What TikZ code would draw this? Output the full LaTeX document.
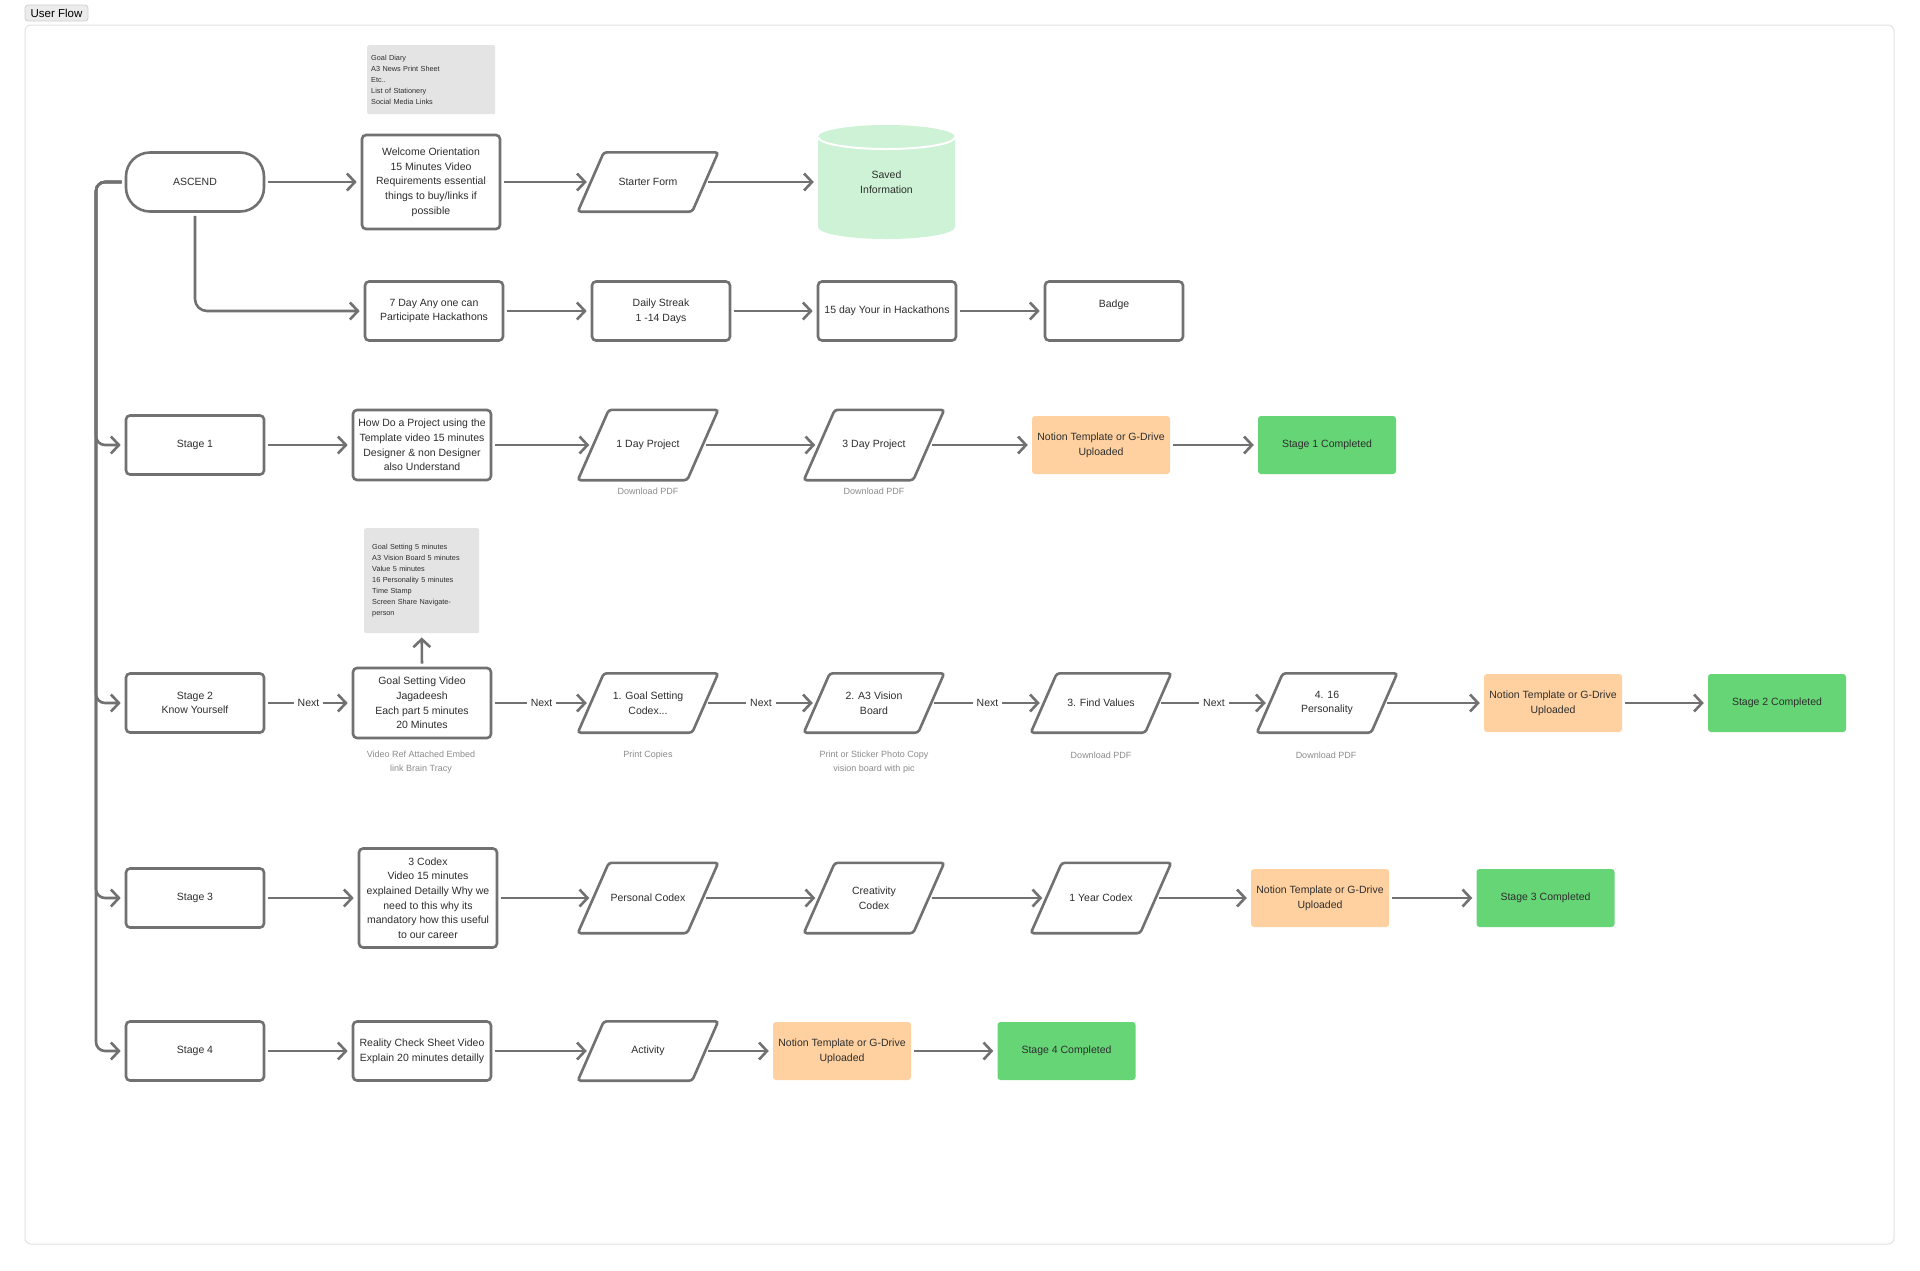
\documentclass[tikz,border=0pt]{standalone}
\usepackage{fontspec}
\setmainfont{Liberation Sans}
\usetikzlibrary{arrows.meta,calc}
\definecolor{bordc}{HTML}{717171}
\definecolor{txtc}{HTML}{2E2E2E}
\definecolor{capc}{HTML}{8C8C8C}
\definecolor{orng}{HTML}{FFD1A0}
\definecolor{grn}{HTML}{66D576}
\definecolor{lgrn}{HTML}{CDF2D5}
\definecolor{noteg}{HTML}{E4E4E4}
\definecolor{framec}{HTML}{E3E3E3}
\definecolor{tabfill}{HTML}{ECECEC}
\definecolor{tabdraw}{HTML}{CFCFCF}
\newcommand\fsmain{\fontsize{10.5}{14.7}\selectfont}
\newcommand\fsnote{\fontsize{7.3}{11.1}\selectfont}
\newcommand\fscap{\fontsize{9}{13.5}\selectfont}
\newcommand\parashape[2]{\draw[pbord] ([xshift=-#2pt]#1.south west) -- ([xshift=#2pt]#1.north west) -- ([xshift=#2pt]#1.north east) -- ([xshift=-#2pt]#1.south east) -- cycle;}
\begin{document}
\begin{tikzpicture}[x=1pt,y=-1pt,
 box/.style={draw=bordc, line width=2.6pt, rounded corners=4pt, minimum width=138pt, minimum height=59pt, align=center, font=\fsmain, text=txtc, inner sep=2pt},
 pnode/.style={minimum width=114pt, minimum height=59pt, align=center, font=\fsmain, text=txtc, inner sep=0pt},
 pnodeT/.style={pnode, minimum width=109pt, minimum height=70pt},
 pbord/.style={draw=bordc, line width=2.6pt, rounded corners=3pt},
 obox/.style={fill=orng, rounded corners=3pt, minimum width=138pt, minimum height=58pt, align=center, font=\fsmain, text=txtc, inner sep=2pt},
 gbox/.style={fill=grn, rounded corners=3pt, minimum width=138pt, minimum height=58pt, align=center, font=\fsmain, text=txtc, inner sep=2pt},
 notebox/.style={fill=noteg, rounded corners=2pt, align=left, font=\fsnote, text=txtc, anchor=north west},
 captxt/.style={font=\fscap, text=capc, align=center},
 arr/.style={draw=bordc, line width=2.6pt, -{Straight Barb[length=8pt,width=17pt]}, shorten <=3pt, shorten >=4pt},
 nxt/.style={fill=white, font=\fsmain, text=txtc, inner sep=4pt}
]
\useasboundingbox (0,0) rectangle (1920,1270);
\fill[white] (0,0) rectangle (1920,1270);
% frame and tab
\draw[framec, line width=1pt, rounded corners=6pt] (25,25) rectangle (1894,1244);
\node[fill=tabfill, draw=tabdraw, line width=0.8pt, rounded corners=3pt, minimum width=63pt, minimum height=16pt, inner sep=0pt, font=\fontsize{11.5}{13}\selectfont, text=black] (tab) at (56.5,13) {User Flow};

% cylinder
\fill[lgrn] (818,137) -- (818,227) arc[start angle=180, end angle=360, x radius=68.5pt, y radius=12pt] -- (955,137) arc[start angle=0, end angle=180, x radius=68.5pt, y radius=12pt] -- cycle;
\draw[white, line width=2pt] (818,137) arc[start angle=180, end angle=360, x radius=68.5pt, y radius=12pt];

% row A
\node[box, rounded corners=24pt] (ascend) at (195,182) {ASCEND};
\node[box, minimum height=94pt] (welcome) at (431,182) {Welcome Orientation\\15 Minutes Video\\Requirements essential\\things to buy/links if\\possible};
\node[pnode] (sf) at (648,182) {Starter Form}; \parashape{sf}{13}
\node[minimum width=137pt, minimum height=114pt, inner sep=0pt, align=center, font=\fsmain, text=txtc] (saved) at (886.5,182) {Saved\\Information};
\node[notebox, text width=120pt, inner xsep=4pt, minimum height=69pt] (note1) at (367,45) {Goal Diary\\A3 News Print Sheet\\Etc..\\List of Stationery\\Social Media Links};

% row B
\node[box] (day7) at (434,311) {7 Day Any one can\\Participate Hackathons};
\node[box] (streak) at (661,311) {Daily Streak\\1 -14 Days};
\node[box] (day15) at (887,311) {15 day Your in Hackathons};
\node[box] (badge) at (1114,311) {Badge\\\mbox{}};

% row 1
\node[box] (stage1) at (195,445) {Stage 1};
\node[box, minimum height=70pt] (howdo) at (422,445) {How Do a Project using the\\Template video 15 minutes\\Designer \& non Designer\\also Understand};
\node[pnodeT] (day1) at (648,445) {1 Day Project}; \parashape{day1}{15.5}
\node[captxt] (cap1) at (648,491) {Download PDF};
\node[pnodeT] (day3) at (874,445) {3 Day Project}; \parashape{day3}{15.5}
\node[captxt] (cap2) at (874,491) {Download PDF};
\node[obox] (not1) at (1101,445) {Notion Template or G-Drive\\Uploaded};
\node[gbox] (done1) at (1327,445) {Stage 1 Completed};

% row 2
\node[notebox, text width=99pt, inner xsep=8pt, minimum height=105pt] (note2) at (364,528) {Goal Setting 5 minutes\\A3 Vision Board 5 minutes\\Value 5 minutes\\16 Personality 5 minutes\\Time Stamp\\Screen Share Navigate-\\person};
\node[box] (stage2) at (195,703) {Stage 2\\Know Yourself};
\node[box, minimum height=70pt] (gsv) at (422,703) {Goal Setting Video\\Jagadeesh\\Each part 5 minutes\\20 Minutes};
\node[captxt] (cap3) at (421,762) {Video Ref Attached Embed\\link Brain Tracy};
\node[pnode] (gs) at (648,703) {1. Goal Setting\\Codex...}; \parashape{gs}{13}
\node[captxt] (cap4) at (648,755.5) {Print Copies};
\node[pnode] (a3) at (874,703) {2. A3 Vision\\Board}; \parashape{a3}{13}
\node[captxt] (cap5) at (874,762) {Print or Sticker Photo Copy\\vision board with pic};
\node[pnode] (fv) at (1101,703) {3. Find Values}; \parashape{fv}{13}
\node[captxt] (cap6) at (1101,755.5) {Download PDF};
\node[pnode] (p16) at (1327,703) {4. 16\\Personality}; \parashape{p16}{13}
\node[captxt] (cap7) at (1326,755.5) {Download PDF};
\node[obox] (not2) at (1553,703) {Notion Template or G-Drive\\Uploaded};
\node[gbox] (done2) at (1777,703) {Stage 2 Completed};

% row 3
\node[box] (stage3) at (195,898) {Stage 3};
\node[box, minimum height=99pt] (codex3) at (428,898) {3 Codex\\Video 15 minutes\\explained Detailly Why we\\need to this why its\\mandatory how this useful\\to our career};
\node[pnodeT] (pc) at (648,898) {Personal Codex}; \parashape{pc}{15.5}
\node[pnodeT] (cc) at (874,898) {Creativity\\Codex}; \parashape{cc}{15.5}
\node[pnodeT] (yc) at (1101,898) {1 Year Codex}; \parashape{yc}{15.5}
\node[obox] (not3) at (1320,898) {Notion Template or G-Drive\\Uploaded};
\node[gbox] (done3) at (1545.5,898) {Stage 3 Completed};

% row 4
\node[box] (stage4) at (195,1051) {Stage 4};
\node[box] (reality) at (422,1051) {Reality Check Sheet Video\\Explain 20 minutes detailly};
\node[pnode] (act) at (648,1051) {Activity}; \parashape{act}{13}
\node[obox] (not4) at (842,1051) {Notion Template or G-Drive\\Uploaded};
\node[gbox] (done4) at (1066.5,1051) {Stage 4 Completed};

% connectors
\coordinate (trunk) at (96,0);
\draw[arr, rounded corners=9pt] (ascend.west) -| (trunk |- stage1.west) -- (stage1.west);
\draw[arr, rounded corners=9pt] (ascend.west) -| (trunk |- stage2.west) -- (stage2.west);
\draw[arr, rounded corners=9pt] (ascend.west) -| (trunk |- stage3.west) -- (stage3.west);
\draw[arr, rounded corners=9pt] (ascend.west) -| (trunk |- stage4.west) -- (stage4.west);
\draw[arr, rounded corners=12pt] (ascend.south) |- (day7.west);

\draw[arr] (ascend.east) -- (welcome.west);
\draw[arr] (welcome.east) -- (sf.west);
\draw[arr] (sf.east) -- (saved.west);

\draw[arr] (day7.east) -- (streak.west);
\draw[arr] (streak.east) -- (day15.west);
\draw[arr] (day15.east) -- (badge.west);

\draw[arr] (stage1.east) -- (howdo.west);
\draw[arr] (howdo.east) -- (day1.west);
\draw[arr] (day1.east) -- (day3.west);
\draw[arr] (day3.east) -- (not1.west);
\draw[arr] (not1.east) -- (done1.west);

\draw[arr] (gsv.north) -- (note2.south);
\draw[arr] (stage2.east) -- node[nxt] {Next} (gsv.west);
\draw[arr] (gsv.east) -- node[nxt] {Next} (gs.west);
\draw[arr] (gs.east) -- node[nxt] {Next} (a3.west);
\draw[arr] (a3.east) -- node[nxt] {Next} (fv.west);
\draw[arr] (fv.east) -- node[nxt] {Next} (p16.west);
\draw[arr] (p16.east) -- (not2.west);
\draw[arr] (not2.east) -- (done2.west);

\draw[arr] (stage3.east) -- (codex3.west);
\draw[arr] (codex3.east) -- (pc.west);
\draw[arr] (pc.east) -- (cc.west);
\draw[arr] (cc.east) -- (yc.west);
\draw[arr] (yc.east) -- (not3.west);
\draw[arr] (not3.east) -- (done3.west);

\draw[arr] (stage4.east) -- (reality.west);
\draw[arr] (reality.east) -- (act.west);
\draw[arr] (act.east) -- (not4.west);
\draw[arr] (not4.east) -- (done4.west);
\end{tikzpicture}
\end{document}
